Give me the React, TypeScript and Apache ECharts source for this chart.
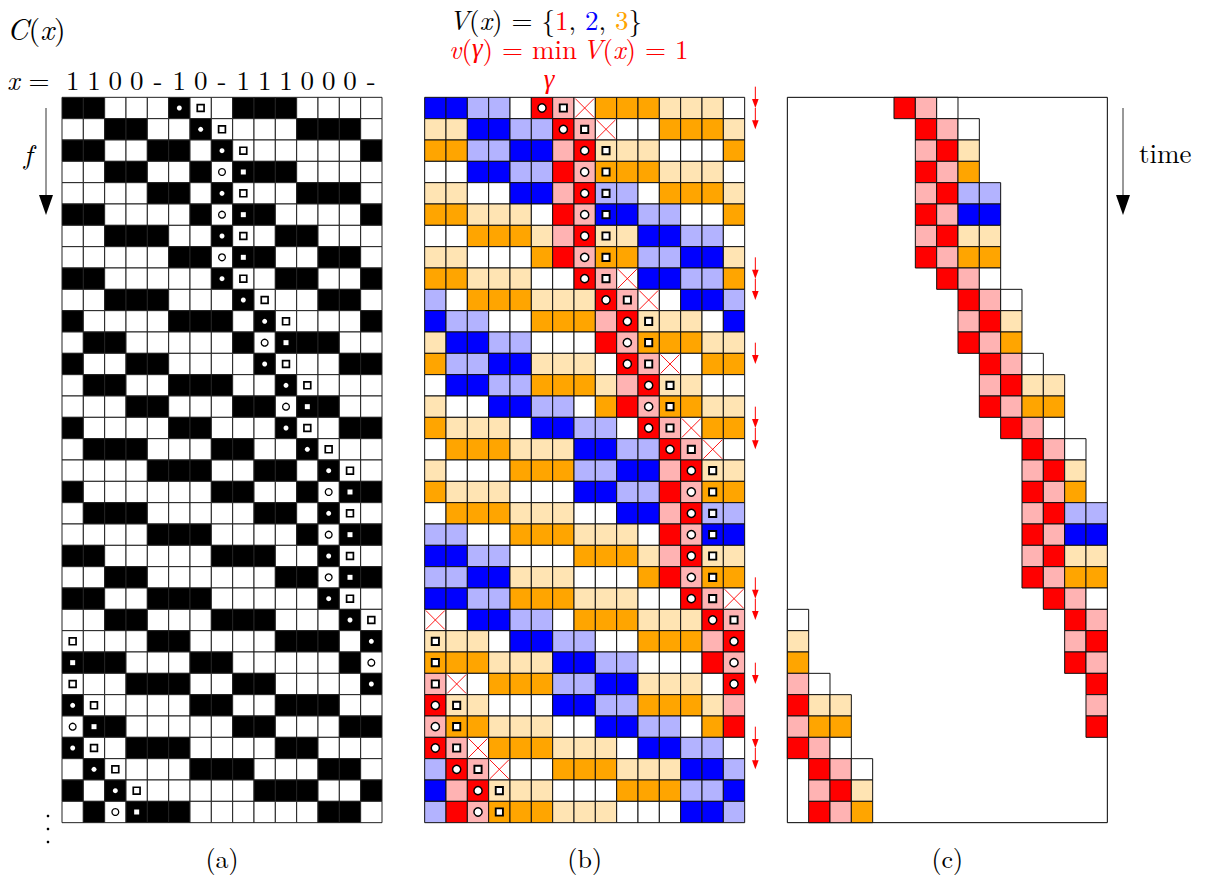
import React, { useEffect, useRef } from 'react';
import * as echarts from 'echarts';

// ---------------- data ----------------
const ROWS = 34;
const COLS = 15;

// header string x (one symbol per column)
const headerSymbols = ['1', '1', '0', '0', '-', '1', '0', '-', '1', '1', '1', '0', '0', '0', '-'];

// panel (a): 1 = black cell, 0 = white cell
const configA = [
  '110001001110000',
  '001100100001110',
  '110011010000001',
  '001100101110000',
  '000011010001110',
  '110000101100001',
  '001110010011000',
  '000001101100110',
  '110000010011001',
  '001110001000110',
  '100001110100001',
  '011000001011100',
  '100110000100011',
  '011001110010000',
  '000110001101100',
  '100001100010011',
  '011100011001000',
  '000011100110100',
  '100000011001011',
  '011100000110100',
  '000011100001011',
  '110000011100100',
  '001100000011011',
  '110011100000100',
  '001100011100010',
  '000011000011101',
  '111000110000010',
  '000111001100001',
  '100000110011100',
  '011000001100011',
  '100111000011000',
  '010000111000110',
  '101000000111001',
  '010111000000110',
];

// panel (b): R red, r light red, B blue, b light blue, O orange, o light orange, W white
const configB = [
  'BBbbWRrWOOOoooW',
  'ooBBbbRrWWWOOOo',
  'OObbBBrRoooWWWO',
  'WWBBbbRrOOOoooW',
  'ooWWBBrRbbWOOOo',
  'OOoooWRrBBbbWWO',
  'WWOOOorRooBBbbW',
  'ooWWWORrOObbBBo',
  'OOoooWWRrWBBbbO',
  'bWOOOoooRrWWBBb',
  'BbbWWOOOrRoooWB',
  'oBBbbWWWRrOOOoo',
  'ObbBBoooWRrWWOO',
  'WBBbbOOOorRooWW',
  'oWWBBbbWORrOOoo',
  'OoooWBBbbWRrWOO',
  'WOOOoooBBbbRrWW',
  'oWWWOOObbBBrRoo',
  'OoooWWWBBbbRrOO',
  'WOOOoooWWBBrRbb',
  'bbWWOOOoooWRrBB',
  'BBbbWWWOOOorRoo',
  'bbBBoooWWWORrOO',
  'BBbbOOOoooWWRrW',
  'WWBBbbWOOOoooRr',
  'oooWBBbbWWOOOrR',
  'OOOoooBBbbWWWRr',
  'rWWOOObbBBoooWR',
  'RooWWWBBbbOOOor',
  'rOOoooWWBBbbWOR',
  'RrWOOOoooWBBbbW',
  'bRrWWWOOOoooBBb',
  'BrRoooWWWOOObbB',
  'bRrOOOoooWWWBBb',
];

// particle markers: circle / dot column and square column for each row
const dotCols = [5, 6, 7, 7, 7, 7, 7, 7, 7, 8, 9, 9, 9, 10, 10, 10, 11, 12, 12, 12, 12, 12, 12, 12, 13, 14, 14, 14, 0, 0, 0, 1, 2, 2];
const squareCols = [6, 7, 8, 8, 8, 8, 8, 8, 8, 9, 10, 10, 10, 11, 11, 11, 12, 13, 13, 13, 13, 13, 13, 13, 14, 0, 0, 0, 1, 1, 1, 2, 3, 3];

// crossed cells in panel (b) (rows also carry the red arrows)
const crossRows = [0, 1, 8, 9, 12, 15, 16, 23, 24, 27, 30, 31];
const crossCols = [7, 8, 9, 10, 11, 12, 13, 14, 0, 1, 2, 3];

// panel (c): visible window per row [row, firstCol, lastCol]
const windowC = [
  [0, 5, 7], [1, 6, 8], [2, 6, 8], [3, 6, 8], [4, 6, 9], [5, 6, 9], [6, 6, 9], [7, 6, 9],
  [8, 7, 9], [9, 8, 10], [10, 8, 10], [11, 8, 10], [12, 9, 11], [13, 9, 12], [14, 9, 12],
  [15, 10, 12], [16, 11, 13], [17, 11, 13], [18, 11, 13], [19, 11, 14], [20, 11, 14],
  [21, 11, 14], [22, 11, 14], [23, 12, 14], [24, 13, 14], [24, 0, 0], [25, 13, 14], [25, 0, 0],
  [26, 13, 14], [26, 0, 0], [27, 14, 14], [27, 0, 1], [28, 14, 14], [28, 0, 2], [29, 14, 14],
  [29, 0, 2], [30, 0, 2], [31, 1, 3], [32, 1, 3], [33, 1, 3],
];

const panelLabels = ['(a)', '(b)', '(c)'];

// ---------------- styling ----------------
const PALETTE: Record<string, string> = {
  R: '#ff0000', r: '#ffb3b3', B: '#0000ff', b: '#b3b3ff', O: '#ffa500', o: '#ffe4b3', W: '#ffffff',
};
const CODES = 'RrBbOoW';
const FONT = 'Latin Modern Roman';
const GREEK_FONT = 'Liberation Serif';
const CELL = 64 / 3;
const GRID_TOP = 97.33;
const GRID_W = COLS * CELL;
const GRID_H = ROWS * CELL;
const PANEL_LEFT = [62, 424.67, 787.33];

function rectOf(api: any, c: number, r: number) {
  const p0 = api.coord([c, r]);
  const p1 = api.coord([c + 1, r + 1]);
  return { x: p0[0], y: p0[1], width: p1[0] - p0[0], height: p1[1] - p0[1] };
}

function txt(x: number, y: number, text: string, size: number, fill: string, align: string, rich?: any, italic?: boolean, family?: string) {
  const style: any = {
    text,
    fill,
    fontFamily: family || FONT,
    fontSize: size,
    lineHeight: size,
    align,
    verticalAlign: 'middle',
  };
  if (italic) style.fontStyle = 'italic';
  if (rich) style.rich = rich;
  return { type: 'text', x, y, silent: true, style };
}

function ital(fill: string, size: number, family?: string) {
  return { fontStyle: 'italic', fontFamily: family || FONT, fontSize: size, fill, lineHeight: size };
}
function plain(fill: string, size: number) {
  return { fontFamily: FONT, fontSize: size, fill, lineHeight: size };
}

function buildOption() {
  const grids = PANEL_LEFT.map((left, i) => ({
    left,
    top: GRID_TOP,
    width: GRID_W,
    height: GRID_H,
    show: i === 2,
    borderColor: '#000',
    borderWidth: 1,
    backgroundColor: 'transparent',
  }));
  const xAxes = PANEL_LEFT.map((_, i) => ({ type: 'value', gridIndex: i, min: 0, max: COLS, show: false }));
  const yAxes = PANEL_LEFT.map((_, i) => ({ type: 'value', gridIndex: i, min: 0, max: ROWS, inverse: true, show: false }));

  const aCells: number[][] = [];
  configA.forEach((row, r) => row.split('').forEach((ch, c) => aCells.push([c, r, ch === '1' ? 1 : 0])));
  const markers: number[][] = [];
  dotCols.forEach((c, r) => markers.push([c, r, 0]));
  squareCols.forEach((c, r) => markers.push([c, r, 1]));
  const bCells: number[][] = [];
  configB.forEach((row, r) => row.split('').forEach((ch, c) => bCells.push([c, r, CODES.indexOf(ch)])));
  const crosses = crossRows.map((r, i) => [crossCols[i], r]);
  const arrows = crossRows.map((r) => [COLS + 0.5, r]);
  const cCells: number[][] = [];
  windowC.forEach(([r, s, e]) => {
    for (let c = s; c <= e; c++) cCells.push([c, r, CODES.indexOf(configB[r][c])]);
  });
  const header = headerSymbols.map((_, c) => [c + 0.5, -0.86]);

  const series: any[] = [
    {
      type: 'custom', xAxisIndex: 0, yAxisIndex: 0, data: aCells, silent: true,
      renderItem: (p: any, api: any) => ({
        type: 'rect',
        shape: rectOf(api, api.value(0), api.value(1)),
        style: { fill: api.value(2) ? '#000' : '#fff', stroke: '#222', lineWidth: 1 },
      }),
    },
    {
      type: 'custom', xAxisIndex: 0, yAxisIndex: 0, data: markers, silent: true, z: 3,
      renderItem: (p: any, api: any) => {
        const c = api.value(0), r = api.value(1), kind = api.value(2);
        const black = configA[r][c] === '1';
        const ctr = api.coord([c + 0.5, r + 0.5]);
        if (kind === 0) {
          return black
            ? { type: 'circle', shape: { cx: ctr[0], cy: ctr[1], r: 2.5 }, style: { fill: '#fff' } }
            : { type: 'circle', shape: { cx: ctr[0], cy: ctr[1], r: 3.4 }, style: { fill: '#fff', stroke: '#000', lineWidth: 1.3 } };
        }
        return black
          ? { type: 'rect', shape: { x: ctr[0] - 2.5, y: ctr[1] - 2.5, width: 5, height: 5 }, style: { fill: '#fff' } }
          : { type: 'rect', shape: { x: ctr[0] - 3.4, y: ctr[1] - 3.4, width: 6.8, height: 6.8 }, style: { fill: '#fff', stroke: '#000', lineWidth: 1.7 } };
      },
    },
    {
      type: 'custom', xAxisIndex: 0, yAxisIndex: 0, data: header, silent: true,
      renderItem: (p: any, api: any) => {
        const pt = api.coord([api.value(0), api.value(1)]);
        return txt(pt[0], pt[1], headerSymbols[p.dataIndex], 27, '#000', 'center');
      },
    },
    {
      type: 'custom', xAxisIndex: 1, yAxisIndex: 1, data: bCells, silent: true,
      renderItem: (p: any, api: any) => ({
        type: 'rect',
        shape: rectOf(api, api.value(0), api.value(1)),
        style: { fill: PALETTE[CODES[api.value(2)]], stroke: '#111', lineWidth: 1 },
      }),
    },
    {
      type: 'custom', xAxisIndex: 1, yAxisIndex: 1, data: crosses, silent: true, z: 3,
      renderItem: (p: any, api: any) => {
        const s = rectOf(api, api.value(0), api.value(1));
        const k = 1.2;
        const ls = { stroke: '#ff0000', lineWidth: 0.9 };
        return {
          type: 'group',
          children: [
            { type: 'line', shape: { x1: s.x + k, y1: s.y + k, x2: s.x + s.width - k, y2: s.y + s.height - k }, style: ls },
            { type: 'line', shape: { x1: s.x + s.width - k, y1: s.y + k, x2: s.x + k, y2: s.y + s.height - k }, style: ls },
          ],
        };
      },
    },
    {
      type: 'custom', xAxisIndex: 1, yAxisIndex: 1, data: markers, silent: true, z: 3,
      renderItem: (p: any, api: any) => {
        const c = api.value(0), r = api.value(1), kind = api.value(2);
        const ctr = api.coord([c + 0.5, r + 0.5]);
        if (kind === 0) {
          return { type: 'circle', shape: { cx: ctr[0], cy: ctr[1], r: 4.1 }, style: { fill: '#fff', stroke: '#000', lineWidth: 1.5 } };
        }
        return { type: 'rect', shape: { x: ctr[0] - 3.6, y: ctr[1] - 3.6, width: 7.2, height: 7.2 }, style: { fill: '#fff', stroke: '#000', lineWidth: 1.9 } };
      },
    },
    {
      type: 'custom', xAxisIndex: 1, yAxisIndex: 1, data: arrows, silent: true, z: 3,
      renderItem: (p: any, api: any) => {
        const a = api.coord([api.value(0), api.value(1) - 0.5]);
        const b = api.coord([api.value(0), api.value(1) + 0.5]);
        return {
          type: 'group',
          children: [
            { type: 'line', shape: { x1: a[0], y1: a[1], x2: b[0], y2: b[1] - 6 }, style: { stroke: '#ff0000', lineWidth: 1 } },
            { type: 'polygon', shape: { points: [[b[0] - 3.3, b[1] - 9], [b[0] + 3.3, b[1] - 9], [b[0], b[1]]] }, style: { fill: '#ff0000' } },
          ],
        };
      },
    },
    {
      type: 'custom', xAxisIndex: 2, yAxisIndex: 2, data: cCells, silent: true,
      renderItem: (p: any, api: any) => ({
        type: 'rect',
        shape: rectOf(api, api.value(0), api.value(1)),
        style: { fill: PALETTE[CODES[api.value(2)]], stroke: '#111', lineWidth: 1 },
      }),
    },
  ];

  const S = 27;
  const graphic: any[] = [
    txt(7, 27, '{i|C}({i|x})', 30, '#000', 'left', { i: ital('#000', 30) }),
    txt(7, 79, '{i|x} =', 27, '#000', 'left', { i: ital('#000', 27) }),
    txt(449, 19, '{i|V}({i|x}) = {{r|1}, {b|2}, {o|3}}', S, '#000', 'left', {
      i: ital('#000', S), r: plain('#ff0000', S), b: plain('#0000ff', S), o: plain('#ffa500', S),
    }),
    txt(449, 48, '{i|v}({g|γ}) = min\u2009{i|V}({i|x}) = 1', S, '#ff0000', 'left', {
      i: ital('#ff0000', S), g: ital('#ff0000', S, GREEK_FONT),
    }),
    txt(549, 79, 'γ', S, '#ff0000', 'center', undefined, true, GREEK_FONT),
    txt(28, 152, 'f', 28, '#000', 'center', undefined, true),
    txt(1139, 152, 'time', 27, '#000', 'left'),
    { type: 'line', silent: true, shape: { x1: 46, y1: 108, x2: 46, y2: 200 }, style: { stroke: '#333', lineWidth: 1 } },
    { type: 'polygon', silent: true, shape: { points: [[39, 195], [53, 195], [46, 215]] }, style: { fill: '#000' } },
    { type: 'line', silent: true, shape: { x1: 1123, y1: 108, x2: 1123, y2: 200 }, style: { stroke: '#333', lineWidth: 1 } },
    { type: 'polygon', silent: true, shape: { points: [[1116, 195], [1130, 195], [1123, 215]] }, style: { fill: '#000' } },
    { type: 'circle', silent: true, shape: { cx: 48, cy: 816, r: 1.3 }, style: { fill: '#000' } },
    { type: 'circle', silent: true, shape: { cx: 48, cy: 829, r: 1.3 }, style: { fill: '#000' } },
    { type: 'circle', silent: true, shape: { cx: 48, cy: 842, r: 1.3 }, style: { fill: '#000' } },
  ];
  panelLabels.forEach((l, i) => graphic.push(txt(PANEL_LEFT[i] + GRID_W / 2, 857, l, 26, '#000', 'center')));

  return {
    animation: false,
    backgroundColor: '#fff',
    grid: grids,
    xAxis: xAxes,
    yAxis: yAxes,
    series,
    graphic,
  };
}

export default function App() {
  const ref = useRef<HTMLDivElement>(null);
  useEffect(() => {
    const chart = echarts.init(ref.current as HTMLDivElement, null, { renderer: 'svg' });
    chart.setOption(buildOption() as any);
    return () => chart.dispose();
  }, []);
  return (
    <div
      ref={ref}
      style={{ position: 'fixed', left: 0, top: 0, width: 1213, height: 879, background: '#fff' }}
    />
  );
}
